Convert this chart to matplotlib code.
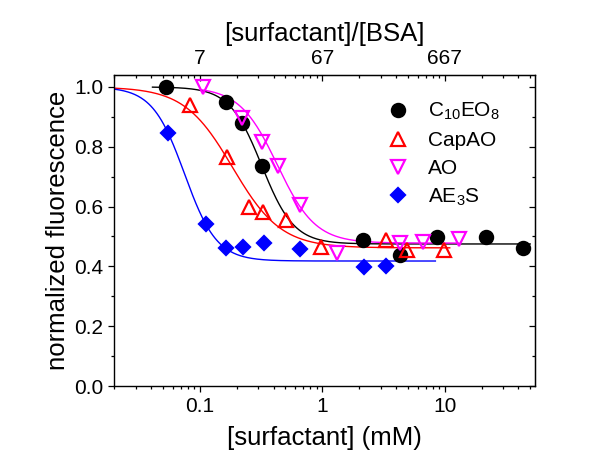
import numpy as np
import matplotlib.pyplot as plt
from matplotlib.ticker import MultipleLocator, NullFormatter

plt.rcParams['font.family'] = ['Liberation Sans', 'DejaVu Sans']
plt.rcParams['mathtext.fontset'] = 'custom'
plt.rcParams['mathtext.rm'] = 'Liberation Sans'
plt.rcParams['mathtext.it'] = 'Liberation Sans:italic'

# measured points, [surfactant] in mM
c10eo8_x = [0.053, 0.162, 0.22, 0.324, 2.16, 4.31, 8.63, 21.8, 43.7]
c10eo8_y = [1.0, 0.951, 0.881, 0.737, 0.488, 0.438, 0.497, 0.497, 0.46]
capao_x = [0.083, 0.166, 0.252, 0.33, 0.51, 0.985, 3.31, 4.95, 9.96]
capao_y = [0.94, 0.765, 0.6, 0.581, 0.555, 0.464, 0.488, 0.455, 0.455]
ao_x = [0.106, 0.22, 0.324, 0.438, 0.656, 1.31, 4.31, 6.63, 13.2]
ao_y = [0.999, 0.895, 0.817, 0.736, 0.605, 0.446, 0.477, 0.483, 0.49]
ae3s_x = [0.055, 0.112, 0.165, 0.224, 0.335, 0.66, 2.2, 3.31]
ae3s_y = [0.845, 0.542, 0.46, 0.464, 0.477, 0.457, 0.399, 0.401]

# dose-response fit parameters: top, bottom, x0, power, x range of the fitted line
c10eo8_fit = [1.0, 0.475, 0.32, 3.3, 0.041, 50]
capao_fit = [1.0, 0.462, 0.185, 2.2, 0.02, 11]
ao_fit = [1.0, 0.478, 0.43, 2.8, 0.1, 13]
ae3s_fit = [1.0, 0.418, 0.075, 3.3, 0.02, 8.4]

bottom_ticks = [0.1, 1, 10]
bottom_labels = ['0.1', '1', '10']
top_labels = ['7', '67', '667']


def fit_curve(p):
    top, bot, x0, n, lo, hi = p
    x = np.logspace(np.log10(lo), np.log10(hi), 300)
    return x, bot + (top - bot) / (1 + (x / x0) ** n)


fig = plt.figure(figsize=(6.13, 4.59), dpi=100)
ax = fig.add_axes([0.1865, 0.159, 0.6867, 0.6776])
ax.set_xscale('log')

series = [
    (c10eo8_x, c10eo8_y, c10eo8_fit, 'black', 'o', 'black', 9.5, r'C$_{\mathregular{10}}$EO$_{\mathregular{8}}$'),
    (capao_x, capao_y, capao_fit, 'red', '^', 'none', 9.5, 'CapAO'),
    (ao_x, ao_y, ao_fit, 'magenta', 'v', 'none', 9.5, 'AO'),
    (ae3s_x, ae3s_y, ae3s_fit, 'blue', 'D', 'blue', 7.5, r'AE$_{\mathregular{3}}$S'),
]

for xs, ys, fit, col, mk, fc, ms, lab in series:
    fx, fy = fit_curve(fit)
    ax.plot(fx, fy, color=col, lw=1.0, zorder=2)
for xs, ys, fit, col, mk, fc, ms, lab in series:
    ax.plot(xs, ys, linestyle='none', marker=mk, markersize=ms,
            markerfacecolor=fc, markeredgecolor=col, markeredgewidth=1.6,
            label=lab, zorder=3)

ax.set_xlim(0.02, 55)
ax.set_ylim(0, 1.04)
ax.set_xticks(bottom_ticks, labels=bottom_labels)
ax.xaxis.set_minor_formatter(NullFormatter())
ax.yaxis.set_major_locator(MultipleLocator(0.2))
ax.yaxis.set_minor_locator(MultipleLocator(0.1))
ax.yaxis.set_major_formatter(lambda v, pos: f'{v:.1f}')
ax.tick_params(which='both', direction='out', labelsize=15, width=0.9)
ax.tick_params(which='major', length=4.5, pad=3.5)
ax.tick_params(which='minor', length=2.5)
for s in ax.spines.values():
    s.set_linewidth(1.0)

ax.set_xlabel('[surfactant] (mM)', fontsize=18.5, labelpad=7)
ax.set_ylabel('normalized fluorescence', fontsize=18.5, labelpad=3)

# top axis: molar ratio to BSA
secx = ax.secondary_xaxis('top')
secx.set_xticks(bottom_ticks, labels=top_labels)
secx.xaxis.set_minor_formatter(NullFormatter())
secx.tick_params(which='both', direction='in', labelsize=15, width=0.9)
secx.tick_params(which='major', length=4.5, pad=5)
secx.tick_params(which='minor', length=2.5)
secx.set_xlabel('[surfactant]/[BSA]', fontsize=18.5, labelpad=6)

secy = ax.secondary_yaxis('right')
secy.yaxis.set_major_locator(MultipleLocator(0.2))
secy.yaxis.set_minor_locator(MultipleLocator(0.1))
secy.yaxis.set_major_formatter(NullFormatter())
secy.tick_params(which='both', direction='in', width=0.9)
secy.tick_params(which='major', length=4.5)
secy.tick_params(which='minor', length=2.5)

ax.legend(loc='upper left', bbox_to_anchor=(388 / 613, 1 - 101 / 459),
          bbox_transform=fig.transFigure, frameon=False, fontsize=15,
          handlelength=1.0, handletextpad=0.9, labelspacing=0.42,
          borderpad=0, borderaxespad=0)

plt.savefig('out.png', dpi=100)
